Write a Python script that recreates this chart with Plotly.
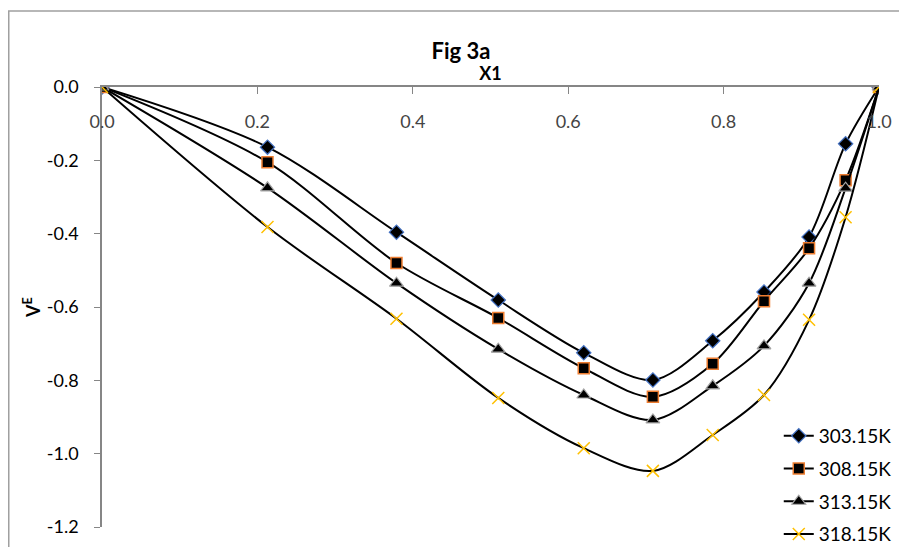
import plotly.graph_objects as go

x1 = [0.0, 0.213, 0.379, 0.510, 0.620, 0.709, 0.786, 0.852, 0.910, 0.957, 1.0]
ve_303 = [0.0, -0.164, -0.396, -0.581, -0.725, -0.799, -0.692, -0.559, -0.409, -0.155, 0.0]
ve_308 = [0.0, -0.205, -0.480, -0.630, -0.767, -0.845, -0.755, -0.584, -0.440, -0.254, 0.0]
ve_313 = [0.0, -0.275, -0.535, -0.715, -0.840, -0.908, -0.815, -0.706, -0.535, -0.276, 0.0]
ve_318 = [0.0, -0.382, -0.632, -0.848, -0.985, -1.047, -0.949, -0.840, -0.635, -0.355, 0.0]
series_names = ["303.15K", "308.15K", "313.15K", "318.15K"]
y_ticks = [0.0, -0.2, -0.4, -0.6, -0.8, -1.0, -1.2]
x_ticks = [0.0, 0.2, 0.4, 0.6, 0.8, 1.0]

FONT = "Lato"

styles = [
    dict(symbol="diamond", size=11, color="black", line=dict(color="#4472C4", width=1.2)),
    dict(symbol="square", size=11, color="black", line=dict(color="#ED7D31", width=1.5)),
    dict(symbol="triangle-up", size=12, color="black", line=dict(color="#A5A5A5", width=1.2)),
    dict(symbol="x-thin-open", size=12, color="#FFC000", line=dict(color="#FFC000", width=1.5)),
]

fig = go.Figure()
for i, (name, ys, st) in enumerate(zip(series_names, [ve_303, ve_308, ve_313, ve_318], styles)):
    fig.add_trace(go.Scatter(
        x=x1, y=ys, name=name, mode="lines+markers", legendgroup=f"g{i}",
        line=dict(color="black", width=2, shape="spline", smoothing=0.9),
        marker=st,
    ))

fig.update_layout(
    width=897, height=539,
    paper_bgcolor="white", plot_bgcolor="white",
    margin=dict(l=94, r=26, t=79, b=20, autoexpand=False),
    font=dict(family=FONT, size=18, color="black"),
    title=dict(text="<b>Fig 3a</b>", x=0.505, xanchor="center", xref="container",
               y=0.92, yanchor="middle", yref="container", font=dict(size=22, family=FONT)),
    showlegend=True,
    legend=dict(x=0.871, xanchor="left", y=0.25, yanchor="top",
                bgcolor="rgba(0,0,0,0)", font=dict(size=19, family=FONT),
                tracegroupgap=5, itemsizing="trace"),
    xaxis=dict(
        range=[0, 1.0], side="top", tickvals=x_ticks,
        ticktext=[f"{v:.1f}" for v in x_ticks],
        ticks="inside", ticklen=7, tickcolor="#868686",
        ticklabelposition="inside", ticklabelstandoff=22, ticklabeloverflow="allow",
        showline=True, linecolor="#868686", linewidth=1.5,
        showgrid=False, zeroline=False, automargin=False,
        title=dict(text="<b>X1</b>", font=dict(size=18, family=FONT), standoff=24),
        tickfont=dict(size=18),
    ),
    yaxis=dict(
        range=[-1.2, 0.0], tickvals=y_ticks,
        ticktext=[f"{v:.1f}" for v in y_ticks],
        ticks="outside", ticklen=6, tickcolor="#868686",
        ticklabelstandoff=12, ticklabeloverflow="allow",
        showline=True, linecolor="#868686", linewidth=1.5,
        showgrid=False, zeroline=False, automargin=False,
        title=dict(text="<b>V<sup>E</sup></b>", font=dict(size=18, family=FONT), standoff=2),
        tickfont=dict(size=18),
    ),
)

fig.add_shape(type="rect", xref="paper", yref="paper",
              x0=-0.120, x1=1.031, y0=-0.06, y1=1.173,
              line=dict(color="#A0A0A0", width=1.5), fillcolor="rgba(0,0,0,0)",
              layer="below")

fig.write_html("out.html")
